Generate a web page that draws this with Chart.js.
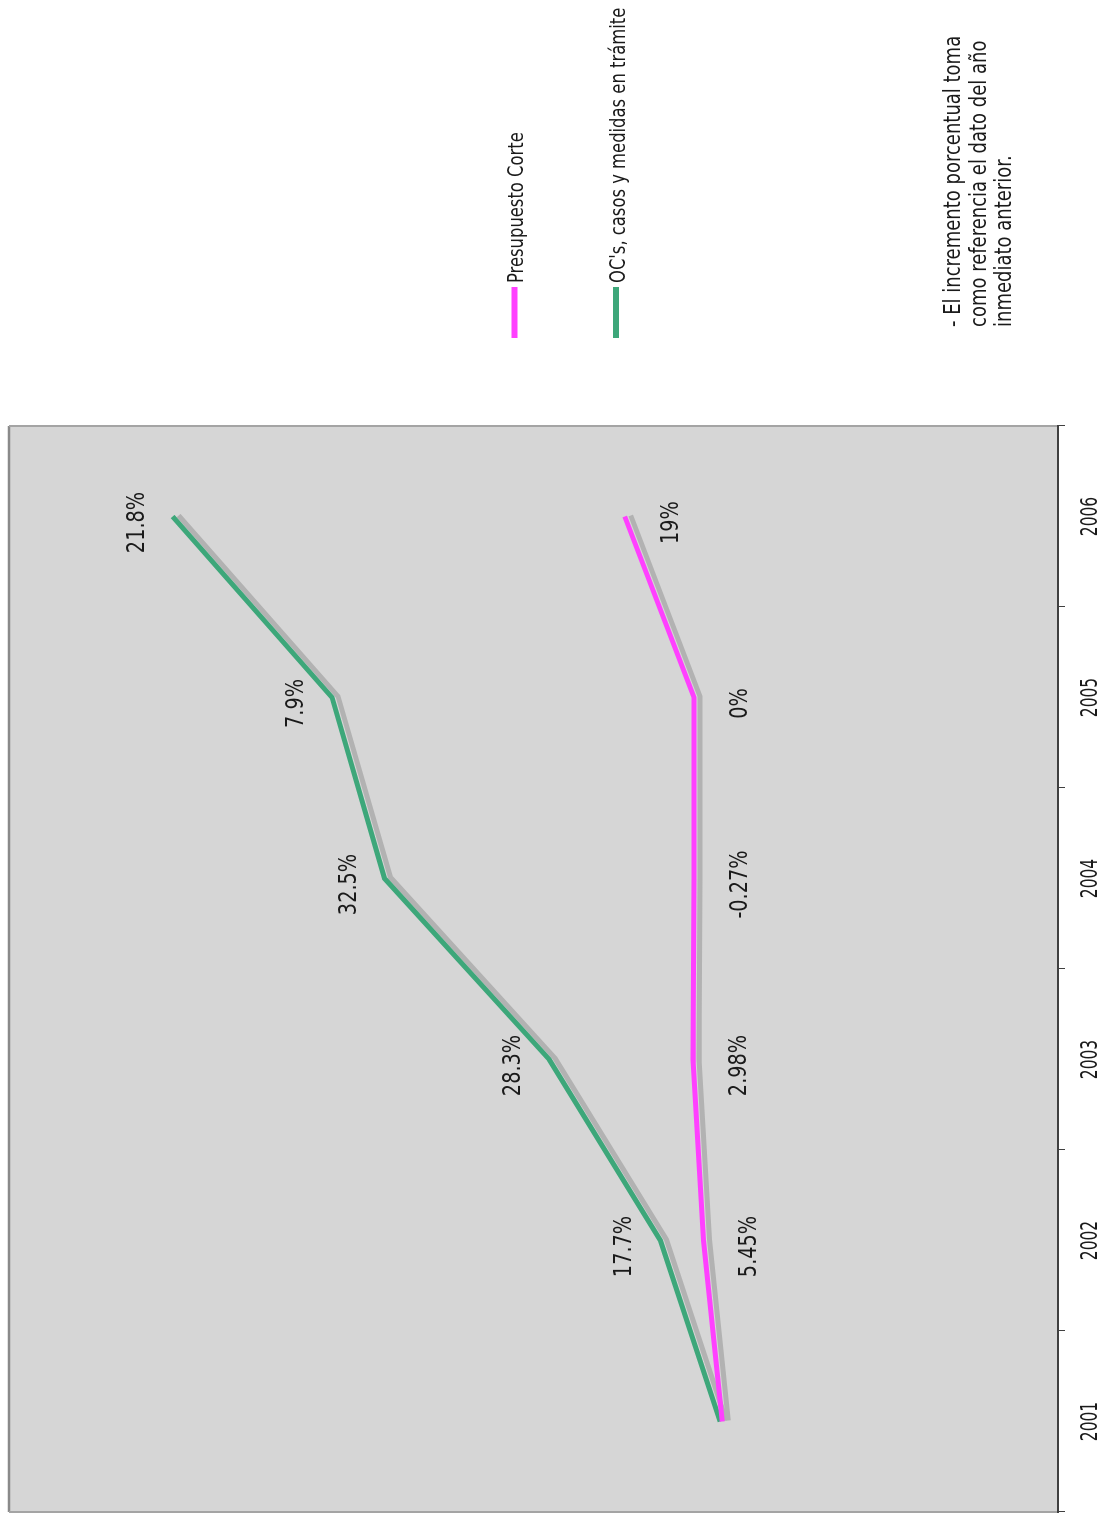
<!DOCTYPE html>
<html>
<head>
<meta charset="utf-8">
<script src="https://cdn.jsdelivr.net/npm/chart.js@4/dist/chart.umd.min.js"></script>
<style>
  html, body { margin: 0; padding: 0; width: 1106px; height: 1514px; overflow: hidden; background: #fff; }
  /* el gráfico original está girado 90° a la izquierda */
  #wrap { position: absolute; left: 0; top: 0; width: 1514px; height: 1106px;
          transform-origin: 0 0; transform: translateY(1514px) rotate(-90deg); }
</style>
</head>
<body>
<div id="wrap"><canvas id="grafico" width="1514" height="1106"></canvas></div>
<script>
// Datos
const years = ['2001', '2002', '2003', '2004', '2005', '2006'];
const seriesNames = ['Presupuesto Corte', "OC's, casos y medidas en trámite"];
const presupuesto = [32.0, 33.8, 34.8, 34.7, 34.7, 41.3];
const ocCasos = [32.2, 37.9, 48.5, 64.2, 69.2, 84.4];
const presupuestoPct = ['', '5.45%', '2.98%', '-0.27%', '0%', '19%'];
const ocCasosPct = ['', '17.7%', '28.3%', '32.5%', '7.9%', '21.8%'];
const noteLines = [
  '- El incremento porcentual toma',
  'como referencia el dato del año',
  'inmediato anterior.'
];

const FONT = '"DejaVu Sans", Verdana, sans-serif';
const colors = ['#ff40ff', '#3da77a'];

// texto con estiramiento vertical (el original está algo alargado)
function drawText(ctx, text, x, y, size, stretch, align) {
  ctx.save();
  ctx.translate(x, y);
  ctx.scale(1, stretch);
  ctx.font = size + 'px ' + FONT;
  ctx.fillStyle = '#1a1a1a';
  ctx.textAlign = align || 'left';
  ctx.textBaseline = 'alphabetic';
  ctx.fillText(text, 0, 0);
  ctx.restore();
}

const decoPlugin = {
  id: 'deco',
  beforeDraw(chart) {
    const { ctx, chartArea: a } = chart;
    ctx.save();
    ctx.fillStyle = '#d6d6d6';
    ctx.fillRect(a.left, a.top, a.right - a.left, a.bottom - a.top);
    ctx.lineWidth = 2.5;
    ctx.strokeStyle = '#8a8a8a';
    ctx.beginPath(); ctx.moveTo(a.left, a.top); ctx.lineTo(a.right, a.top); ctx.stroke();
    ctx.lineWidth = 2;
    ctx.strokeStyle = '#a4a4a4';
    ctx.beginPath(); ctx.moveTo(a.left, a.top); ctx.lineTo(a.left, a.bottom); ctx.stroke();
    ctx.beginPath(); ctx.moveTo(a.right, a.top); ctx.lineTo(a.right, a.bottom); ctx.stroke();
    ctx.restore();
  },
  beforeDatasetDraw(chart) {
    const ctx = chart.ctx;
    ctx.save();
    ctx.shadowColor = '#b2b2b2';
    ctx.shadowOffsetX = 1;
    ctx.shadowOffsetY = 6;
    ctx.shadowBlur = 0;
  },
  afterDatasetDraw(chart) {
    chart.ctx.restore();
  },
  afterDraw(chart) {
    const ctx = chart.ctx;
    // etiquetas de porcentaje
    const pctSets = [presupuestoPct, ocCasosPct];
    const offs = [53, -29];
    chart.data.datasets.forEach((ds, di) => {
      const meta = chart.getDatasetMeta(di);
      meta.data.forEach((pt, i) => {
        if (pctSets[di][i]) drawText(ctx, pctSets[di][i], pt.x - 6, pt.y + offs[di], 19.3, 1.3, 'center');
      });
    });
    // años del eje x
    const xs = chart.scales.x;
    years.forEach((y, i) => drawText(ctx, y, xs.getPixelForValue(i), 1097, 15.5, 1.45, 'center'));
    // leyenda
    seriesNames.forEach((name, i) => {
      const yy = 514.5 + i * 101.5;
      ctx.save();
      ctx.strokeStyle = colors[i];
      ctx.lineWidth = 6;
      ctx.beginPath(); ctx.moveTo(1176, yy); ctx.lineTo(1227, yy); ctx.stroke();
      ctx.restore();
      drawText(ctx, name, 1231, yy + 8.5, 16.4, 1.25, 'left');
    });
    // nota
    noteLines.forEach((t, i) => drawText(ctx, t, 1187, 960 + i * 25.5, 18, 1.25, 'left'));
  }
};

new Chart(document.getElementById('grafico').getContext('2d'), {
  type: 'line',
  data: {
    labels: years,
    datasets: [
      { label: seriesNames[0], data: presupuesto, borderColor: colors[0], borderWidth: 5,
        pointRadius: 0, tension: 0, fill: false },
      { label: seriesNames[1], data: ocCasos, borderColor: colors[1], borderWidth: 5,
        pointRadius: 0, tension: 0, fill: false }
    ]
  },
  options: {
    responsive: false,
    animation: false,
    devicePixelRatio: 1,
    layout: { padding: { left: 2, top: 9, right: 426, bottom: 0 } },
    plugins: { legend: { display: false }, tooltip: { enabled: false } },
    scales: {
      x: {
        offset: true,
        grid: { offset: true, drawOnChartArea: false, tickLength: 7, tickColor: '#404040', tickWidth: 1 },
        border: { color: '#404040', width: 2 },
        ticks: { display: false },
        afterFit(s) { s.height = 48; }
      },
      y: { display: false, min: 0, max: 100 }
    }
  },
  plugins: [decoPlugin]
});
</script>
</body>
</html>
